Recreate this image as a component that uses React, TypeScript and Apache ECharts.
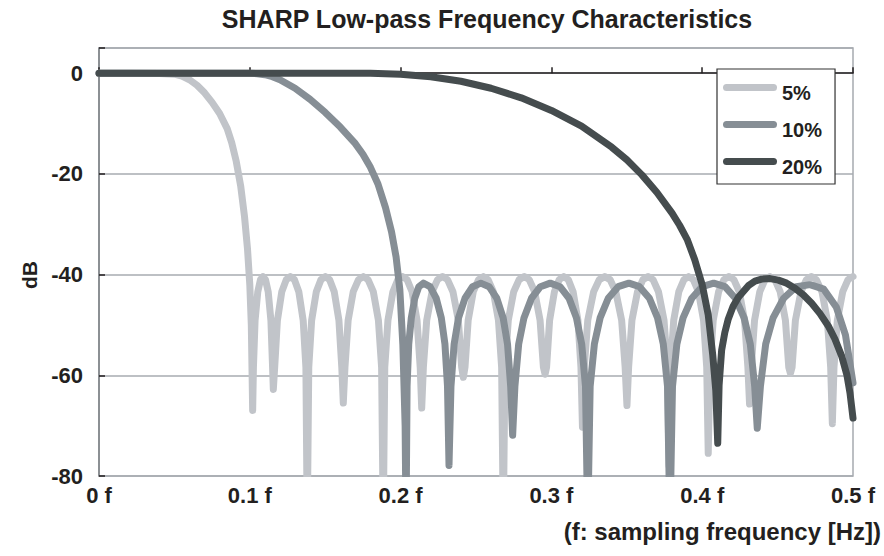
import React, { useEffect, useRef } from "react";
import * as echarts from "echarts";

const FONT = '"Liberation Sans", Arial, Helvetica, sans-serif';

const titleText = "SHARP Low-pass Frequency Characteristics";
const xAxisName = "(f: sampling frequency [Hz])";
const yAxisName = "dB";
const seriesNames = ["5%", "10%", "20%"];
const seriesColors = ["#c1c4c9", "#868e95", "#454c4e"];
const xTicks = [0, 0.1, 0.2, 0.3, 0.4, 0.5];
const yTicks = [-80, -60, -40, -20, 0];

// 5% transition band filter: [frequency (×f), dB]
const curve5: number[][] = [
  [0, 0], [0.02, 0], [0.04, -0.05], [0.05, -0.2], [0.055, -0.6], [0.06, -1.3], [0.065, -2.4], [0.07, -3.9],
  [0.075, -5.8], [0.08, -8.0], [0.085, -11.0], [0.088, -13.8], [0.091, -17.5], [0.094, -22.5], [0.0965, -28.5],
  [0.0985, -35], [0.1, -42], [0.101, -50], [0.1019, -67],
  [0.1024, -58.4], [0.1035, -49.1], [0.1053, -43.4], [0.1071, -41.0], [0.1088, -40.4], [0.1104, -41.0], [0.1122, -43.4], [0.114, -49.1], [0.1151, -58.4], [0.1156, -62.8],
  [0.1165, -58.4], [0.1183, -49.1], [0.1212, -43.4], [0.1242, -41.0], [0.1269, -40.4], [0.1296, -41.0], [0.1325, -43.4], [0.1354, -49.1], [0.1372, -58.4], [0.1381, -90],
  [0.1391, -58.4], [0.141, -49.1], [0.1441, -43.4], [0.1472, -41.0], [0.1501, -40.4], [0.1529, -41.0], [0.156, -43.4], [0.1591, -49.1], [0.161, -58.4], [0.162, -65.5],
  [0.1631, -58.4], [0.1652, -49.1], [0.1686, -43.4], [0.1721, -41.0], [0.1753, -40.4], [0.1784, -41.0], [0.1819, -43.4], [0.1853, -49.1], [0.1874, -58.4], [0.1885, -90],
  [0.1895, -58.4], [0.1916, -49.1], [0.1949, -43.4], [0.1982, -41.0], [0.2013, -40.4], [0.2043, -41.0], [0.2076, -43.4], [0.2109, -49.1], [0.213, -58.4], [0.214, -66.5],
  [0.2151, -58.4], [0.2173, -49.1], [0.2209, -43.4], [0.2245, -41.0], [0.2278, -40.4], [0.2311, -41.0], [0.2347, -43.4], [0.2383, -49.1], [0.2405, -58.4], [0.2416, -60.4],
  [0.2427, -58.4], [0.2448, -49.1], [0.2482, -43.4], [0.2517, -41.0], [0.2549, -40.4], [0.258, -41.0], [0.2615, -43.4], [0.2649, -49.1], [0.267, -58.4], [0.2681, -90],
  [0.2692, -58.4], [0.2714, -49.1], [0.275, -43.4], [0.2786, -41.0], [0.282, -40.4], [0.2853, -41.0], [0.2889, -43.4], [0.2925, -49.1], [0.2947, -58.4], [0.2958, -59.8],
  [0.2968, -58.4], [0.2988, -49.1], [0.302, -43.4], [0.3052, -41.0], [0.3082, -40.4], [0.3112, -41.0], [0.3144, -43.4], [0.3176, -49.1], [0.3196, -58.4], [0.3206, -70.3],
  [0.3218, -58.4], [0.3241, -49.1], [0.328, -43.4], [0.3318, -41.0], [0.3354, -40.4], [0.3389, -41.0], [0.3427, -43.4], [0.3466, -49.1], [0.3489, -58.4], [0.3501, -66],
  [0.3512, -58.4], [0.3534, -49.1], [0.3571, -43.4], [0.3607, -41.0], [0.3641, -40.4], [0.3674, -41.0], [0.371, -43.4], [0.3747, -49.1], [0.3769, -58.4], [0.378, -78],
  [0.379, -58.4], [0.3811, -49.1], [0.3845, -43.4], [0.3879, -41.0], [0.391, -40.4], [0.3941, -41.0], [0.3975, -43.4], [0.4009, -49.1], [0.403, -58.4], [0.404, -75.5],
  [0.4051, -58.4], [0.4073, -49.1], [0.4109, -43.4], [0.4144, -41.0], [0.4177, -40.4], [0.421, -41.0], [0.4246, -43.4], [0.4281, -49.1], [0.4303, -58.4], [0.4314, -65.7],
  [0.4325, -58.4], [0.4347, -49.1], [0.4382, -43.4], [0.4417, -41.0], [0.445, -40.4], [0.4482, -41.0], [0.4517, -43.4], [0.4552, -49.1], [0.4574, -58.4], [0.4585, -59.6],
  [0.4596, -58.4], [0.4618, -49.1], [0.4655, -43.4], [0.4691, -41.0], [0.4724, -40.4], [0.4757, -41.0], [0.4794, -43.4], [0.483, -49.1], [0.4852, -58.4], [0.4863, -69.6],
  [0.4874, -58.4], [0.4896, -49.1], [0.4932, -43.4], [0.4967, -41.0], [0.5, -40.4],
];

// 10% transition band filter
const curve10: number[][] = [
  [0, 0], [0.05, 0], [0.1, 0], [0.105, -0.1], [0.11, -0.3], [0.115, -0.7], [0.12, -1.3], [0.13, -3.0], [0.14, -5.2],
  [0.15, -7.8], [0.16, -10.7], [0.17, -14.0], [0.175, -16.1], [0.18, -18.7], [0.185, -22], [0.19, -26.7], [0.194, -31.5],
  [0.197, -36.5], [0.1995, -43], [0.2015, -54], [0.203, -70], [0.2036, -90],
  [0.2043, -62.2], [0.2054, -53.8], [0.2071, -48.6], [0.2094, -44.7], [0.2121, -42.4], [0.2151, -41.7], [0.2195, -42.4], [0.2236, -44.7], [0.227, -48.6], [0.2294, -53.8], [0.2311, -62.2], [0.2321, -77.9],
  [0.2334, -62.2], [0.2355, -53.8], [0.2384, -48.6], [0.2427, -44.7], [0.2477, -42.4], [0.2532, -41.7], [0.2587, -42.4], [0.2638, -44.7], [0.268, -48.6], [0.2709, -53.8], [0.273, -62.2], [0.2743, -71.9],
  [0.2758, -62.2], [0.2783, -53.8], [0.2818, -48.6], [0.2868, -44.7], [0.2927, -42.4], [0.2992, -41.7], [0.3057, -42.4], [0.3117, -44.7], [0.3166, -48.6], [0.3201, -53.8], [0.3226, -62.2], [0.3241, -90],
  [0.3257, -62.2], [0.3285, -53.8], [0.3323, -48.6], [0.3377, -44.7], [0.3443, -42.4], [0.3514, -41.7], [0.3584, -42.4], [0.365, -44.7], [0.3704, -48.6], [0.3742, -53.8], [0.377, -62.2], [0.3786, -90],
  [0.3803, -62.2], [0.3832, -53.8], [0.3873, -48.6], [0.3931, -44.7], [0.4, -42.4], [0.4076, -41.7], [0.4151, -42.4], [0.422, -44.7], [0.4278, -48.6], [0.4319, -53.8], [0.4348, -62.2], [0.4365, -70.5],
  [0.4386, -62.2], [0.4421, -53.8], [0.447, -48.6], [0.454, -44.7], [0.4624, -42.4], [0.4715, -42], [0.4806, -42.9], [0.489, -46.5], [0.495, -52], [0.5, -61.5],
];

// 20% transition band filter
const curve20: number[][] = [
  [0, 0], [0.1, 0], [0.15, 0], [0.18, 0], [0.2, -0.2], [0.22, -0.7], [0.24, -1.6], [0.26, -3.0], [0.28, -4.9],
  [0.3, -7.4], [0.32, -10.5], [0.34, -14.7], [0.35, -17.2], [0.36, -20.2], [0.37, -23.7], [0.38, -27.8], [0.385, -30.2],
  [0.39, -33], [0.395, -37], [0.4, -42], [0.404, -48], [0.407, -56], [0.409, -63], [0.4103, -73.5],
  [0.4112, -62], [0.4129, -55], [0.415, -51.5], [0.4173, -48.8], [0.4205, -46.3], [0.424, -44.5], [0.4306, -42.2],
  [0.435, -41.3], [0.4394, -40.9], [0.445, -40.8], [0.4505, -41.1], [0.456, -41.7], [0.4615, -42.7], [0.467, -44],
  [0.4726, -45.7], [0.478, -47.7], [0.4836, -50.2], [0.488, -52.8], [0.4925, -56.2], [0.496, -60], [0.498, -63.5], [0.5, -68.5],
];

const curves = [curve5, curve10, curve20];

const GRID = { left: 99, right: 31, top: 48, bottom: 80 };
const W = 884;
const H = 556;
const TEXT_COLOR = "#231f20";

export default function App() {
  const ref = useRef<HTMLDivElement>(null);

  useEffect(() => {
    if (!ref.current) return;
    const chart = echarts.init(ref.current, undefined, { renderer: "svg" });
    const option: any = {
      animation: false,
      backgroundColor: "#ffffff",
      textStyle: { fontFamily: FONT },
      title: [
        {
          text: titleText,
          left: 487,
          top: 6,
          padding: 0,
          textAlign: "center",
          textStyle: { fontFamily: FONT, fontSize: 25, fontWeight: "bold", color: TEXT_COLOR },
        },
        {
          text: xAxisName,
          right: 3,
          top: 519,
          padding: 0,
          textStyle: { fontFamily: FONT, fontSize: 24, fontWeight: "bold", color: TEXT_COLOR },
        },
      ],
      legend: {
        orient: "vertical",
        left: 717,
        top: 69,
        backgroundColor: "#ffffff",
        borderColor: "#333333",
        borderWidth: 1.2,
        borderRadius: 0,
        padding: [14, 13, 7, 6],
        itemWidth: 54,
        itemHeight: 7,
        itemGap: 17,
        icon: "path://M3.5 0H50.5A3.5 3.5 0 0 1 50.5 7H3.5A3.5 3.5 0 0 1 3.5 0Z",
        formatter: "{a|{name}}",
        textStyle: {
          fontFamily: FONT,
          fontSize: 20,
          fontWeight: "bold",
          color: TEXT_COLOR,
          rich: {
            a: {
              fontFamily: FONT,
              fontSize: 20,
              fontWeight: "bold",
              color: TEXT_COLOR,
              padding: [11, 0, 0, 0],
            },
          },
        },
        data: seriesNames,
      },
      grid: {
        ...GRID,
        show: true,
        borderColor: "#a7abb0",
        borderWidth: 1.5,
        containLabel: false,
      },
      xAxis: {
        type: "value",
        min: xTicks[0],
        max: xTicks[xTicks.length - 1],
        interval: 0.1,
        axisLine: { show: true, lineStyle: { color: TEXT_COLOR, width: 1.5 } },
        axisTick: { show: true, inside: true, length: 6, lineStyle: { color: TEXT_COLOR, width: 1.5 } },
        splitLine: { show: false },
        axisLabel: {
          margin: 8,
          fontFamily: FONT,
          fontSize: 22,
          fontWeight: "bold",
          color: TEXT_COLOR,
          formatter: (v: number) => `${Math.round(v * 10) / 10} f`,
        },
      },
      yAxis: {
        type: "value",
        min: yTicks[0],
        max: 5,
        interval: 20,
        name: yAxisName,
        nameLocation: "middle",
        nameRotate: 90,
        nameGap: 58,
        nameTextStyle: {
          fontFamily: FONT,
          fontSize: 21,
          fontWeight: "bold",
          color: TEXT_COLOR,
          padding: [0, 26, 0, 0],
        },
        axisLine: { show: true, lineStyle: { color: "#7d8185", width: 1.5 } },
        axisTick: { show: true, inside: true, length: 6, lineStyle: { color: TEXT_COLOR, width: 1.5 } },
        splitLine: { show: true, lineStyle: { color: "#a7abb0", width: 1.5 } },
        axisLabel: {
          margin: 16,
          fontFamily: FONT,
          fontSize: 22,
          fontWeight: "bold",
          color: TEXT_COLOR,
          formatter: (v: number) => (yTicks.includes(v) ? String(v) : ""),
        },
      },
      graphic: [
        {
          type: "rect",
          z: 50,
          silent: true,
          shape: { x: GRID.left - 2, y: H - GRID.bottom + 1, width: W - GRID.left - GRID.right + 8, height: 5 },
          style: { fill: "#ffffff" },
        },
      ],
      series: curves.map((c, i) => ({
        name: seriesNames[i],
        type: "line",
        data: c,
        showSymbol: false,
        symbol: "none",
        clip: true,
        color: seriesColors[i],
        itemStyle: { color: seriesColors[i] },
        lineStyle: { color: seriesColors[i], width: 7, cap: "round", join: "round" },
        z: 2 + i,
      })),
    };
    chart.setOption(option);
    return () => chart.dispose();
  }, []);

  return (
    <div
      ref={ref}
      style={{ position: "fixed", left: 0, top: 0, width: W, height: H, background: "#fff" }}
    />
  );
}
